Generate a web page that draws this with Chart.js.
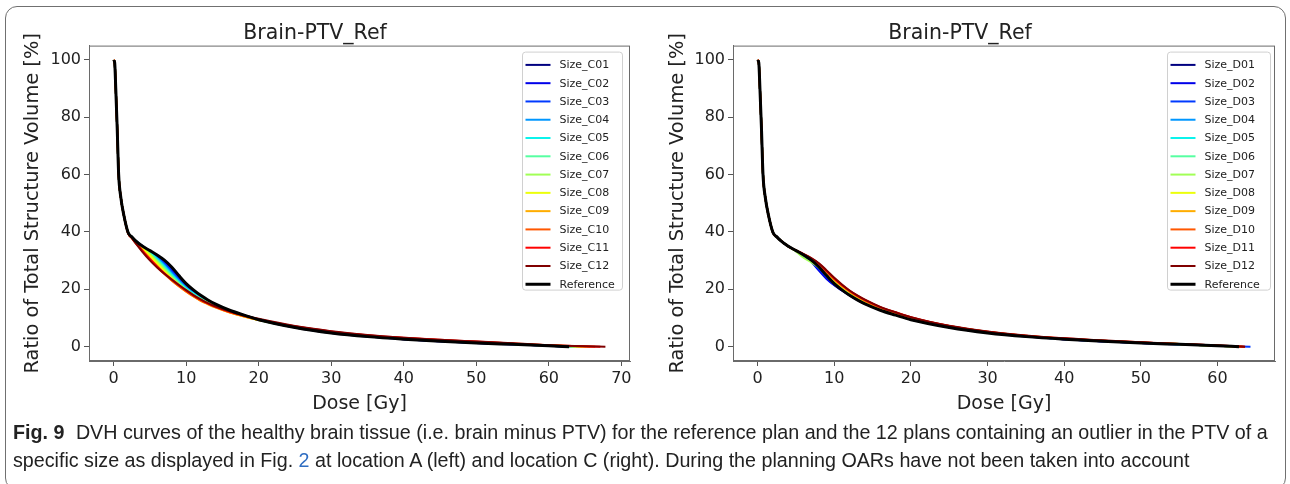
<!DOCTYPE html>
<html>
<head>
<meta charset="utf-8">
<title>DVH curves Brain-PTV_Ref</title>
<script src="https://cdn.jsdelivr.net/npm/chart.js@4.4.1/dist/chart.umd.min.js"></script>
<style>
  html, body { margin: 0; padding: 0; background: #fff; }
  body { width: 1290px; height: 484px; position: relative; overflow: hidden; }
  .frame { position: absolute; left: 5px; top: 6px; width: 1279px; height: 482px; border: 1px solid #707070; border-radius: 12px; }
  #chartA { position: absolute; left: 0; top: 0; }
  #chartB { position: absolute; left: 645px; top: 0; }
  .caption { position: absolute; left: 13px; top: 418px; font-family: "Liberation Sans", sans-serif;
             font-size: 19.7px; line-height: 28px; color: #222; white-space: nowrap; }
  .caption b { margin-right: 6px; }
  .caption .ref { color: #2f6dc2; }
</style>
</head>
<body>
<div class="frame"></div>
<canvas id="chartA" width="645" height="420"></canvas>
<canvas id="chartB" width="645" height="420"></canvas>
<div class="caption"><b>Fig. 9</b> DVH curves of the healthy brain tissue (i.e. brain minus PTV) for the reference plan and the 12 plans containing an outlier in the PTV of a<br>specific size as displayed in Fig. <span class="ref">2</span> at location A (left) and location C (right). During the planning OARs have not been taken into account</div>

<script>
// dose grid [Gy] shared by all curves (each curve then drops to 0 at its own max dose)
const doseGrid = [0, 0.15, 0.3, 0.5, 0.7, 1, 1.4, 2, 2.5, 3, 4, 5, 6, 7, 8, 9, 10, 11, 12, 13, 14, 16, 18, 20, 25, 30, 35, 40, 45, 50, 55, 60];

// reference plan (same in both panels)
const volRef = [100, 99, 90, 76, 60, 52, 46, 39.8, 38.3, 37, 35, 33.5, 32, 30.2, 27.8, 24.8, 22, 19.8, 17.9, 16.3, 14.9, 12.7, 11, 9.4, 6.7, 4.8, 3.5, 2.6, 1.9, 1.3, 0.8, 0.3];
const endDoseRef = 62.8;

// location A (left panel)
const volC01 = [100, 99, 90, 76, 60, 52, 46, 39.8, 38.3, 37, 35, 33.4, 31.8, 29.8, 27.2, 24.3, 21.6, 19.5, 17.7, 16.1, 14.8, 12.6, 11, 9.4, 6.7, 4.8, 3.5, 2.6, 1.9, 1.3, 0.8, 0.3];
const volC02 = [100, 99, 90, 76, 60, 52, 46, 39.8, 38.3, 37, 35, 33.3, 31.6, 29.5, 26.8, 23.9, 21.3, 19.3, 17.5, 16, 14.7, 12.5, 10.9, 9.4, 6.8, 4.9, 3.6, 2.6, 1.9, 1.3, 0.8, 0.3];
const volC03 = [100, 99, 90, 76, 60, 52, 46, 39.8, 38.3, 37, 35, 33.2, 31.3, 29.1, 26.3, 23.5, 21, 19, 17.3, 15.8, 14.6, 12.5, 10.9, 9.4, 6.8, 4.9, 3.6, 2.7, 2, 1.4, 0.8, 0.3];
const volC04 = [100, 99, 90, 76, 60, 52, 46, 39.8, 38.3, 37, 34.9, 33, 30.9, 28.5, 25.7, 23, 20.6, 18.7, 17.1, 15.7, 14.5, 12.4, 10.8, 9.4, 6.8, 4.9, 3.6, 2.7, 2, 1.4, 0.9, 0.3];
const volC05 = [100, 99, 90, 76, 60, 52, 46, 39.8, 38.3, 37, 34.8, 32.8, 30.5, 28, 25.2, 22.6, 20.3, 18.5, 16.9, 15.5, 14.3, 12.3, 10.8, 9.4, 6.8, 4.9, 3.6, 2.7, 2, 1.4, 0.9, 0.3];
const volC06 = [100, 99, 90, 76, 60, 52, 46, 39.8, 38.3, 37, 34.7, 32.5, 30.1, 27.4, 24.7, 22.2, 20, 18.2, 16.7, 15.4, 14.2, 12.2, 10.7, 9.3, 6.8, 4.9, 3.7, 2.8, 2.1, 1.5, 0.9, 0.4];
const volC07 = [100, 99, 90, 76, 60, 52, 46, 39.8, 38.3, 37, 34.5, 32.2, 29.6, 26.9, 24.2, 21.8, 19.7, 18, 16.5, 15.2, 14.1, 12.1, 10.6, 9.3, 6.8, 5, 3.7, 2.8, 2.1, 1.5, 0.9, 0.4];
const volC08 = [100, 99, 90, 76, 60, 52, 46, 39.8, 38.2, 36.8, 34.3, 31.8, 29, 26.3, 23.7, 21.4, 19.4, 17.7, 16.2, 15, 13.9, 12, 10.5, 9.3, 6.9, 5, 3.7, 2.8, 2.1, 1.5, 0.9, 0.4];
const volC09 = [100, 99, 90, 76, 60, 52, 46, 39.6, 37.9, 36.4, 33.6, 30.9, 28.2, 25.6, 23.2, 21.1, 19.2, 17.5, 16, 14.8, 13.7, 11.9, 10.5, 9.3, 6.9, 5.1, 3.8, 2.9, 2.2, 1.6, 1, 0.4];
const volC10 = [100, 99, 90, 76, 60, 52, 46, 39.6, 37.9, 36.3, 33.3, 30.5, 27.8, 25.3, 23.1, 21.1, 19.3, 17.6, 16.1, 14.9, 13.8, 12, 10.6, 9.4, 7, 5.2, 3.9, 3, 2.3, 1.7, 1.1, 0.5];
const volC11 = [100, 99, 90, 76, 60, 52, 46, 39.6, 37.9, 36.4, 33.4, 30.6, 28, 25.6, 23.5, 21.5, 19.6, 17.9, 16.4, 15.1, 14, 12.2, 10.8, 9.6, 7.1, 5.3, 4, 3.1, 2.4, 1.8, 1.1, 0.5];
const volC12 = [100, 99, 90, 76, 60, 52, 46, 39.6, 37.9, 36.2, 33, 30.1, 27.6, 25.4, 23.4, 21.5, 19.7, 18, 16.5, 15.2, 14.1, 12.3, 10.9, 9.7, 7.2, 5.4, 4.1, 3.1, 2.4, 1.8, 1.2, 0.5];
const endDoseC = [63.0, 63.2, 63.4, 63.6, 63.9, 64.2, 64.6, 65.1, 65.7, 66.4, 67.1, 67.8];
const labelsC = ["Size_C01", "Size_C02", "Size_C03", "Size_C04", "Size_C05", "Size_C06", "Size_C07", "Size_C08", "Size_C09", "Size_C10", "Size_C11", "Size_C12"];

// location C (right panel)
const volD01 = [100, 99, 90, 76, 60, 52, 46, 39.8, 38.3, 37, 35, 33.5, 31.9, 29.8, 26.8, 23.9, 21.5, 19.6, 17.9, 16.3, 14.9, 12.8, 11.1, 9.5, 6.8, 4.9, 3.5, 2.6, 1.9, 1.3, 0.8, 0.3];
const volD02 = [100, 99, 90, 76, 60, 52, 46, 39.8, 38.3, 37, 35, 33.5, 31.8, 29.6, 26.5, 23.6, 21.4, 19.6, 17.9, 16.3, 15, 12.8, 11.1, 9.5, 6.8, 4.9, 3.6, 2.6, 1.9, 1.3, 0.8, 0.3];
const volD03 = [100, 99, 90, 76, 60, 52, 46, 39.8, 38.3, 37, 35, 33.5, 31.9, 29.9, 27.2, 24.4, 21.9, 19.9, 18.1, 16.5, 15.1, 12.9, 11.2, 9.6, 6.8, 4.9, 3.6, 2.6, 1.9, 1.3, 0.8, 0.3];
const volD04 = [100, 99, 90, 76, 60, 52, 46, 39.8, 38.3, 37, 35, 33.5, 32, 30.2, 27.8, 25, 22.4, 20.2, 18.4, 16.8, 15.4, 13.1, 11.4, 9.7, 6.9, 5, 3.6, 2.7, 2, 1.4, 0.8, 0.3];
const volD05 = [100, 99, 90, 76, 60, 52, 46, 39.8, 38.3, 37, 35, 33.5, 32, 30.3, 28, 25.2, 22.6, 20.4, 18.5, 16.9, 15.5, 13.2, 11.4, 9.8, 6.9, 5, 3.6, 2.7, 2, 1.4, 0.8, 0.3];
const volD06 = [100, 99, 90, 76, 60, 52, 46, 39.8, 38.3, 37, 35, 33.6, 32.1, 30.4, 28.1, 25.4, 22.8, 20.6, 18.7, 17.1, 15.6, 13.3, 11.5, 9.8, 7, 5, 3.7, 2.7, 2, 1.4, 0.8, 0.3];
const volD07 = [100, 99, 90, 76, 60, 52, 46, 39.8, 38.3, 37, 35, 33.2, 31, 29.4, 27.6, 25.2, 22.8, 20.7, 18.8, 17.2, 15.7, 13.4, 11.6, 9.9, 7, 5.1, 3.7, 2.7, 2, 1.4, 0.9, 0.3];
const volD08 = [100, 99, 90, 76, 60, 52, 46, 39.8, 38.3, 37, 35, 33.5, 32, 30.5, 28.4, 25.8, 23.2, 20.9, 19, 17.3, 15.8, 13.5, 11.7, 10, 7.1, 5.1, 3.7, 2.8, 2, 1.4, 0.9, 0.3];
const volD09 = [100, 99, 90, 76, 60, 52, 46, 39.8, 38.3, 37, 35, 33.5, 32.1, 30.6, 28.6, 26, 23.4, 21.1, 19.2, 17.5, 16, 13.6, 11.8, 10.1, 7.1, 5.1, 3.7, 2.8, 2.1, 1.4, 0.9, 0.3];
const volD10 = [100, 99, 90, 76, 60, 52, 46, 39.8, 38.3, 37, 35, 33.6, 32.2, 30.7, 28.8, 26.2, 23.6, 21.3, 19.3, 17.6, 16.1, 13.7, 11.9, 10.2, 7.2, 5.2, 3.8, 2.8, 2.1, 1.5, 0.9, 0.4];
const volD11 = [100, 99, 90, 76, 60, 52, 46, 39.8, 38.3, 37, 35, 33.6, 32.3, 30.8, 28.9, 26.4, 23.8, 21.5, 19.5, 17.8, 16.3, 13.8, 12, 10.3, 7.2, 5.2, 3.8, 2.9, 2.1, 1.5, 0.9, 0.4];
const volD12 = [100, 99, 90, 76, 60, 52, 46, 39.8, 38.3, 37, 35, 33.6, 32.3, 30.9, 29.1, 26.6, 24, 21.7, 19.6, 17.9, 16.4, 13.9, 12, 10.3, 7.3, 5.3, 3.9, 2.9, 2.2, 1.5, 0.9, 0.4];
const endDoseD = [63.0, 63.2, 64.3, 63.4, 63.0, 62.9, 63.1, 63.3, 63.2, 63.4, 63.6, 63.6];
const labelsD = ["Size_D01", "Size_D02", "Size_D03", "Size_D04", "Size_D05", "Size_D06", "Size_D07", "Size_D08", "Size_D09", "Size_D10", "Size_D11", "Size_D12"];

// jet colormap, 12 steps
const jetColors = ["#000080", "#0000e9", "#003aff", "#0097ff", "#0bf3ec", "#56ffa1", "#a1ff56", "#ecff0b", "#ffad00", "#ff5700", "#ff0100", "#800000"];

// axes
const xRangeC = [-3.39, 71.19];
const xRangeD = [-3.215, 67.5];
const xTicksC = [0, 10, 20, 30, 40, 50, 60, 70];
const xTicksD = [0, 10, 20, 30, 40, 50, 60];
const yTicks = [0, 20, 40, 60, 80, 100];
const yRange = [-5, 105];

const FONT = "DejaVu Sans";
const TEXT = "#222";

function toPoints(vals, endDose) {
  const pts = doseGrid.map((d, i) => ({ x: d, y: vals[i] }));
  pts.push({ x: endDose, y: 0 });
  return pts;
}

// top + right spines
const boxFrame = {
  id: "boxFrame",
  afterDatasetsDraw(chart) {
    const { ctx, chartArea: a } = chart;
    ctx.save();
    ctx.strokeStyle = "#6a6a6a";
    ctx.lineWidth = 1;
    ctx.strokeRect(a.left + 0.5, a.top + 0.5, a.right - a.left - 1, a.bottom - a.top - 1);
    ctx.restore();
  }
};

// matplotlib-like legend box in the upper right
const boxLegend = {
  id: "boxLegend",
  afterDraw(chart, args, opts) {
    const { ctx, chartArea: a } = chart;
    const sets = chart.data.datasets;
    const w = opts.width, h = 238, rowH = 18.28;
    const x0 = a.right - opts.right - w;
    const y0 = a.top + 6;
    ctx.save();
    ctx.beginPath();
    ctx.roundRect(x0 + 0.5, y0 + 0.5, w, h, 3);
    ctx.fillStyle = "rgba(255,255,255,0.85)";
    ctx.fill();
    ctx.strokeStyle = "#d0d0d0";
    ctx.lineWidth = 1;
    ctx.stroke();
    ctx.font = "11px " + FONT;
    ctx.textBaseline = "middle";
    sets.forEach((ds, i) => {
      const y = y0 + 13.3 + i * rowH;
      ctx.beginPath();
      ctx.moveTo(x0 + 3.5, y);
      ctx.lineTo(x0 + 28.5, y);
      ctx.strokeStyle = ds.borderColor;
      ctx.lineWidth = ds.borderWidth;
      ctx.stroke();
      ctx.fillStyle = TEXT;
      ctx.fillText(ds.label, x0 + 37.5, y + 0.5);
    });
    ctx.restore();
  }
};

function makeChart(canvasId, labels, series, endDoses, xRange, xTicks, yAxisWidth, padRight, legendW, legendRight) {
  const datasets = series.map((vals, i) => ({
    label: labels[i],
    data: toPoints(vals, endDoses[i]),
    borderColor: jetColors[i],
    borderWidth: 2,
    order: 12 - i
  }));
  datasets.push({
    label: "Reference",
    data: toPoints(volRef, endDoseRef),
    borderColor: "#000000",
    borderWidth: 3,
    order: 0
  });

  return new Chart(document.getElementById(canvasId), {
    type: "line",
    data: { datasets },
    options: {
      responsive: false,
      animation: false,
      events: [],
      layout: { padding: { left: 0, right: padRight, top: 0, bottom: 0 } },
      elements: {
        point: { radius: 0 },
        line: { cubicInterpolationMode: "monotone", borderCapStyle: "butt", borderJoinStyle: "round" }
      },
      plugins: {
        legend: { display: false },
        tooltip: { enabled: false },
        title: {
          display: true,
          text: "Brain-PTV_Ref",
          color: TEXT,
          font: { family: FONT, size: 20.5, weight: "normal", lineHeight: 1.2 },
          padding: { top: 21, bottom: 0 }
        },
        boxLegend: { width: legendW, right: legendRight }
      },
      scales: {
        x: {
          type: "linear",
          min: xRange[0],
          max: xRange[1],
          afterBuildTicks: (s) => { s.ticks = xTicks.map(v => ({ value: v })); },
          afterFit: (s) => { s.height = 59; },
          ticks: { color: TEXT, font: { family: FONT, size: 16 }, padding: 3, maxRotation: 0 },
          grid: { drawOnChartArea: false, drawTicks: true, tickLength: 5, tickColor: "#555", tickWidth: 1 },
          border: { display: true, color: "#6a6a6a", width: 1 },
          title: {
            display: true,
            text: "Dose [Gy]",
            color: TEXT,
            font: { family: FONT, size: 19, lineHeight: 1.2 },
            padding: { top: 0, bottom: 5 }
          }
        },
        y: {
          type: "linear",
          min: yRange[0],
          max: yRange[1],
          afterBuildTicks: (s) => { s.ticks = yTicks.map(v => ({ value: v })); },
          afterFit: (s) => { s.width = yAxisWidth; },
          ticks: { color: TEXT, font: { family: FONT, size: 16 }, padding: 3 },
          grid: { drawOnChartArea: false, drawTicks: true, tickLength: 5, tickColor: "#555", tickWidth: 1 },
          border: { display: true, color: "#6a6a6a", width: 1 },
          title: {
            display: true,
            text: "Ratio of Total Structure Volume [%]",
            color: TEXT,
            font: { family: FONT, size: 19.4, lineHeight: 1.2 },
            padding: { top: 21, bottom: 0 }
          }
        }
      }
    },
    plugins: [boxFrame, boxLegend]
  });
}

makeChart("chartA", labelsC,
  [volC01, volC02, volC03, volC04, volC05, volC06, volC07, volC08, volC09, volC10, volC11, volC12],
  endDoseC, xRangeC, xTicksC, 89, 15, 100, 8);

makeChart("chartB", labelsD,
  [volD01, volD02, volD03, volD04, volD05, volD06, volD07, volD08, volD09, volD10, volD11, volD12],
  endDoseD, xRangeD, xTicksD, 88, 15, 103, 5);
</script>
</body>
</html>
